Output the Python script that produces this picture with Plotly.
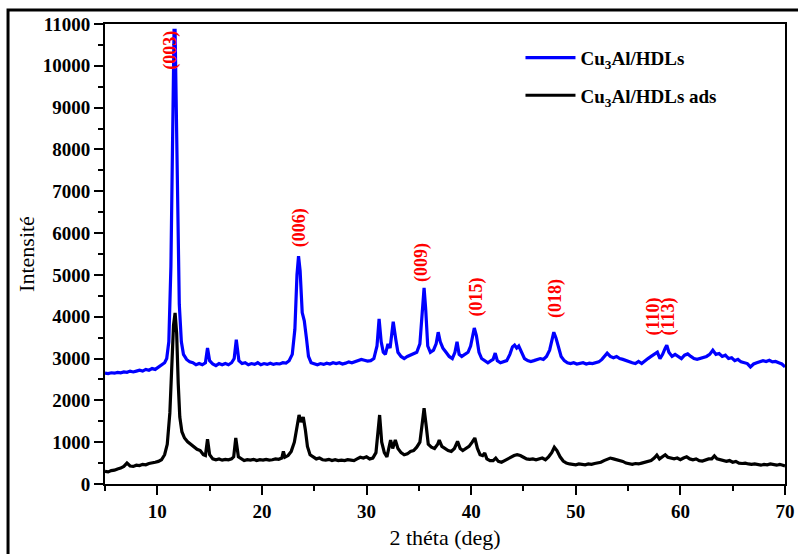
import plotly.graph_objects as go

# ---- data ----
blue_x = [5.0, 5.3, 5.6, 5.9, 6.2, 6.5, 6.8, 7.1, 7.4, 7.7, 8.0, 8.3, 8.6, 8.9, 9.2, 9.5, 9.8,
          10.1, 10.4, 10.7, 10.9, 11.1, 11.3, 11.45, 11.6, 11.7, 11.8, 11.95, 12.1, 12.3, 12.5,
          12.8, 13.1, 13.4, 13.7, 14.0, 14.3, 14.6, 14.8, 15.0, 15.3, 15.6, 15.9, 16.2, 16.5,
          16.8, 17.1, 17.35, 17.55, 17.8, 18.1, 18.4, 18.7, 19.0, 19.3, 19.6, 19.9, 20.2, 20.5,
          20.8, 21.1, 21.4, 21.7, 22.0, 22.3, 22.6, 22.9, 23.15, 23.35, 23.5, 23.65, 23.85,
          24.05, 24.25, 24.45, 24.7, 25.0, 25.3, 25.6, 25.9, 26.2, 26.5, 26.8, 27.1, 27.4, 27.7,
          28.0, 28.3, 28.6, 28.9, 29.2, 29.5, 29.8, 30.1, 30.4, 30.7, 31.0, 31.2, 31.4, 31.6,
          31.8, 32.05, 32.25, 32.55, 32.8, 33.0, 33.3, 33.6, 33.9, 34.2, 34.5, 34.8, 35.1, 35.35,
          35.5, 35.65, 35.85, 36.1, 36.4, 36.65, 36.85, 37.05, 37.3, 37.6, 37.9, 38.2, 38.45,
          38.65, 38.85, 39.1, 39.4, 39.7, 39.95, 40.15, 40.3, 40.5, 40.75, 41.0, 41.3, 41.6,
          41.9, 42.1, 42.3, 42.5, 42.8, 43.1, 43.4, 43.7, 43.95, 44.15, 44.35, 44.55, 44.8, 45.1,
          45.4, 45.7, 46.0, 46.3, 46.6, 46.9, 47.2, 47.5, 47.75, 47.9, 48.1, 48.35, 48.6, 48.9,
          49.2, 49.5, 49.8, 50.1, 50.4, 50.7, 51.0, 51.3, 51.6, 51.9, 52.2, 52.5, 52.8, 53.0,
          53.3, 53.6, 53.9, 54.2, 54.5, 54.8, 55.1, 55.4, 55.7, 56.0, 56.3, 56.6, 56.9, 57.2,
          57.5, 57.8, 58.05, 58.3, 58.55, 58.7, 58.9, 59.2, 59.5, 59.8, 60.1, 60.4, 60.7, 61.0,
          61.3, 61.6, 61.9, 62.2, 62.5, 62.8, 63.1, 63.4, 63.7, 64.0, 64.3, 64.6, 64.9, 65.2,
          65.5, 65.8, 66.1, 66.4, 66.7, 67.0, 67.3, 67.6, 67.9, 68.2, 68.5, 68.8, 69.1, 69.4,
          69.7, 70.0]
blue_y = [2650, 2640, 2660, 2650, 2670, 2660, 2680, 2670, 2700, 2680, 2700, 2720, 2700, 2740,
          2720, 2760, 2740, 2790, 2830, 2900, 3000, 3400, 5200, 8400, 10850, 10850, 9200, 6300,
          4300, 3400, 3100, 2980, 2920, 2900, 2850, 2880, 2850, 2900, 3250, 2950, 2870, 2830,
          2880, 2850, 2880, 2850, 2900, 3000, 3450, 2950, 2880, 2900, 2850, 2880, 2860, 2900,
          2850, 2880, 2860, 2890, 2860, 2880, 2870, 2900, 2890, 2950, 3100, 3700, 5000, 5450,
          5100, 4100, 3900, 3500, 3050, 2900, 2880, 2850, 2880, 2860, 2890, 2870, 2900, 2880,
          2900, 2870, 2890, 2920, 2900, 2930, 2950, 2980, 2960, 2940, 2950, 3000, 3300, 3950,
          3400, 3150, 3100, 3350, 3250, 3880, 3450, 3150, 3050, 3000, 3050, 3080, 3120, 3150,
          3350, 4300, 4690, 4200, 3300, 3150, 3200, 3350, 3630, 3400, 3250, 3150, 3050, 3000,
          3150, 3400, 3100, 3050, 3100, 3150, 3300, 3550, 3730, 3550, 3150, 3000, 2950, 2900,
          2950, 2980, 3130, 2950, 2900, 2920, 2950, 3100, 3280, 3320, 3250, 3300, 3150, 3000,
          2950, 2930, 2950, 2980, 3000, 2980, 3050, 3200, 3450, 3630, 3500, 3250, 3050, 2950,
          2900, 2880, 2900, 2870, 2880, 2900, 2870, 2890, 2880, 2900, 2920, 2980, 3080, 3130,
          3050, 3020, 3050, 3000, 2980, 2950, 2920, 2900, 2880, 2930, 2880, 2950, 3000, 3050,
          3100, 3150, 3000, 3100, 3250, 3320, 3150, 3050, 3100, 3050, 3000, 3080, 3110, 3050,
          3000, 2980, 3000, 3020, 3050, 3100, 3200, 3100, 3120, 3050, 3080, 3000, 3020, 2950,
          2980, 2920, 2900, 2880, 2800, 2870, 2900, 2920, 2950, 2930, 2960, 2920, 2930, 2900,
          2870, 2800]

black_x = [5.0, 5.3, 5.6, 5.9, 6.2, 6.5, 6.8, 7.1, 7.4, 7.7, 8.0, 8.3, 8.6, 8.9, 9.2, 9.5, 9.8,
           10.1, 10.4, 10.7, 10.95, 11.2, 11.4, 11.55, 11.7, 11.85, 12.0, 12.15, 12.35, 12.6,
           12.9, 13.2, 13.5, 13.8, 14.1, 14.4, 14.6, 14.8, 15.0, 15.3, 15.6, 15.9, 16.2, 16.5,
           16.8, 17.1, 17.3, 17.5, 17.75, 18.0, 18.3, 18.6, 18.9, 19.2, 19.5, 19.8, 20.1, 20.4,
           20.7, 21.0, 21.3, 21.6, 21.9, 22.05, 22.2, 22.5, 22.8, 23.1, 23.35, 23.55, 23.75,
           23.95, 24.15, 24.35, 24.6, 24.9, 25.2, 25.5, 25.8, 26.1, 26.4, 26.7, 27.0, 27.3, 27.6,
           27.9, 28.2, 28.5, 28.8, 29.1, 29.4, 29.7, 30.0, 30.3, 30.6, 30.9, 31.1, 31.25, 31.45,
           31.7, 31.95, 32.15, 32.3, 32.5, 32.75, 33.0, 33.3, 33.6, 33.9, 34.2, 34.5, 34.8, 35.1,
           35.35, 35.5, 35.7, 35.9, 36.2, 36.5, 36.8, 36.95, 37.2, 37.5, 37.8, 38.1, 38.4, 38.7,
           38.95, 39.2, 39.5, 39.8, 40.1, 40.35, 40.6, 40.85, 41.1, 41.3, 41.5, 41.8, 42.1,
           42.35, 42.6, 42.9, 43.2, 43.5, 43.8, 44.1, 44.4, 44.7, 45.0, 45.3, 45.6, 45.9, 46.2,
           46.5, 46.8, 47.1, 47.4, 47.7, 47.95, 48.2, 48.5, 48.8, 49.1, 49.4, 49.7, 50.0, 50.3,
           50.6, 50.9, 51.2, 51.5, 51.8, 52.1, 52.4, 52.7, 53.0, 53.3, 53.6, 53.9, 54.2, 54.5,
           54.8, 55.1, 55.4, 55.7, 56.0, 56.3, 56.6, 56.9, 57.2, 57.5, 57.75, 58.0, 58.3, 58.55,
           58.8, 59.1, 59.4, 59.7, 60.0, 60.3, 60.6, 60.9, 61.2, 61.5, 61.8, 62.1, 62.4, 62.7,
           63.0, 63.25, 63.5, 63.8, 64.1, 64.4, 64.7, 65.0, 65.3, 65.6, 65.9, 66.2, 66.5, 66.8,
           67.1, 67.4, 67.7, 68.0, 68.3, 68.6, 68.9, 69.2, 69.5, 69.8, 70.0]
black_y = [300, 290, 320, 330, 360, 380, 420, 500, 430, 420, 450, 440, 470, 460, 490, 500, 520,
           540, 580, 700, 950, 1700, 2900, 3800, 4090, 3600, 2400, 1600, 1250, 1100, 1010, 950,
           900, 830, 800, 700, 680, 1070, 700, 600, 580, 600, 570, 590, 580, 600, 650, 1100, 650,
           600, 560, 580, 570, 590, 560, 580, 570, 590, 570, 580, 600, 590, 620, 780, 640, 680,
           780, 1000, 1400, 1650, 1480, 1600, 1300, 900, 700, 640, 600, 620, 580, 570, 590, 560,
           580, 560, 570, 560, 580, 570, 560, 600, 640, 620, 650, 600, 620, 750, 1300, 1650, 1000,
           750, 650, 850, 1050, 850, 1050, 850, 750, 700, 720, 780, 800, 880, 1000, 1500, 1810,
           1400, 950, 880, 850, 950, 1050, 900, 850, 800, 780, 850, 1020, 850, 800, 850, 900,
           1000, 1100, 850, 700, 680, 740, 600, 560, 560, 620, 540, 520, 560, 600, 650, 680, 700,
           680, 640, 600, 590, 600, 580, 600, 620, 580, 650, 750, 880, 800, 650, 550, 500, 480,
           470, 460, 480, 470, 460, 480, 470, 490, 500, 520, 560, 600, 620, 600, 580, 560, 540,
           500, 480, 470, 490, 480, 500, 520, 530, 560, 620, 690, 600, 650, 700, 640, 620, 600,
           620, 580, 620, 650, 600, 580, 600, 560, 550, 570, 600, 600, 670, 600, 580, 560, 540,
           560, 520, 540, 500, 490, 500, 480, 470, 480, 460, 450, 470, 460, 480, 460, 450, 470,
           440, 430]

peak_labels = ["(003)", "(006)", "(009)", "(015)", "(018)", "(110)", "(113)"]
peak_label_x = [11.3, 23.57, 35.3, 40.47, 48.08, 57.4, 58.9]
peak_label_y = [10380, 6120, 5310, 4460, 4440, 4010, 4000]

series_names = ["Cu<sub>3</sub>Al/HDLs", "Cu<sub>3</sub>Al/HDLs ads"]

SERIF = "Liberation Serif"

fig = go.Figure()
fig.add_trace(go.Scatter(x=blue_x, y=blue_y, mode="lines", name=series_names[0],
                         line=dict(color="#0000ff", width=3.2), legendgroup="a"))
fig.add_trace(go.Scatter(x=black_x, y=black_y, mode="lines", name=series_names[1],
                         line=dict(color="#000000", width=3.2), legendgroup="b"))

for t, px, py in zip(peak_labels, peak_label_x, peak_label_y):
    fig.add_annotation(x=px, y=py, text="<b>" + t + "</b>", showarrow=False, textangle=-90,
                       xanchor="center", yanchor="middle",
                       font=dict(family=SERIF, size=18, color="#ff0000"))

fig.update_layout(
    width=798, height=554,
    margin=dict(l=105, r=13, t=24, b=70),
    paper_bgcolor="white", plot_bgcolor="white",
    showlegend=True,
    legend=dict(x=0.611, y=0.968, xanchor="left", yanchor="top",
                bgcolor="rgba(0,0,0,0)", itemwidth=50,
                traceorder="grouped", tracegroupgap=10,
                font=dict(family=SERIF, size=19, color="black", weight="bold")),
    xaxis=dict(range=[5, 70], tick0=0, dtick=10, ticks="outside", ticklen=9, tickwidth=2,
               tickcolor="black", showline=True, linecolor="black", linewidth=2, mirror=True,
               showgrid=False, zeroline=False, automargin=False,
               minor=dict(dtick=5, tick0=0, ticks="outside", ticklen=5, tickwidth=1.5,
                          tickcolor="black", showgrid=False),
               tickfont=dict(family=SERIF, size=19, color="black", weight="bold"),
               title=dict(text="2 théta (deg)", standoff=9,
                          font=dict(family=SERIF, size=22, color="black"))),
    yaxis=dict(range=[0, 11000], tick0=0, dtick=1000, tickformat="d", ticks="outside",
               ticklen=9, tickwidth=2, automargin=False,
               tickcolor="black", showline=True, linecolor="black", linewidth=2, mirror=True,
               showgrid=False, zeroline=False,
               minor=dict(dtick=500, ticks="outside", ticklen=5, tickwidth=1.5,
                          tickcolor="black", showgrid=False),
               tickfont=dict(family=SERIF, size=19, color="black", weight="bold"),
               title=dict(text="Intensité", standoff=2,
                          font=dict(family=SERIF, size=22, color="black"))),
    shapes=[dict(type="rect", xref="paper", yref="paper",
                 x0=-0.1426, x1=1.03, y0=-0.17, y1=1.0304,
                 line=dict(color="black", width=3), fillcolor="rgba(0,0,0,0)", layer="above")],
)

fig.write_html("out.html")
